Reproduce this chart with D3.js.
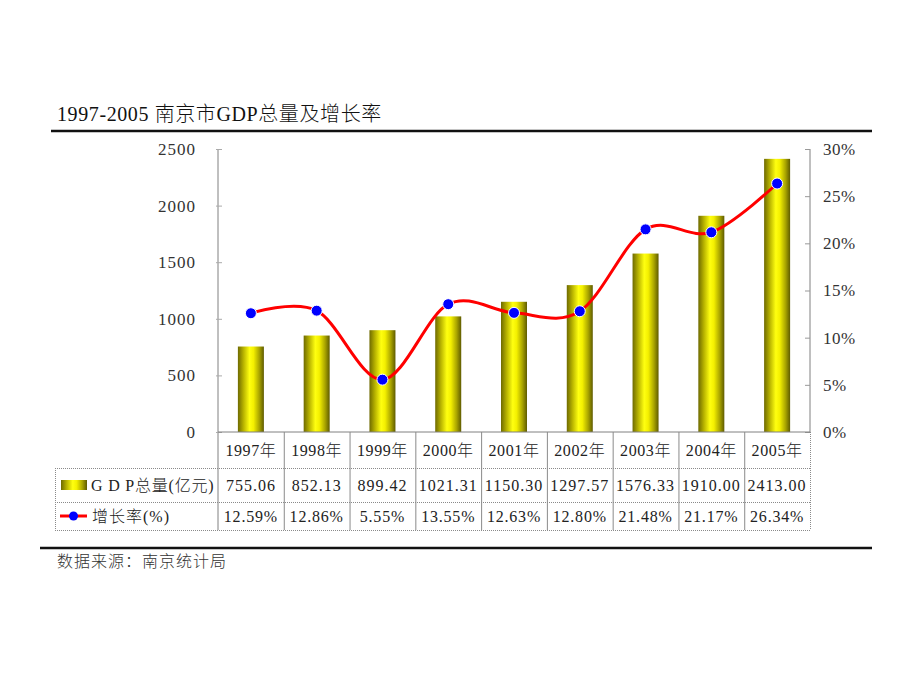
<!DOCTYPE html>
<html><head><meta charset="utf-8">
<script src="https://cdn.jsdelivr.net/npm/d3@7"></script>
<style>
body{margin:0;background:#fff;}
text{font-family:"Liberation Serif","Noto Sans CJK SC",serif;font-weight:300;}
</style></head>
<body><svg id="c" width="920" height="690"></svg>
<script>
const years = ["1997年","1998年","1999年","2000年","2001年","2002年","2003年","2004年","2005年"];
const gdp = [755.06,852.13,899.42,1021.31,1150.30,1297.57,1576.33,1910.00,2413.00];
const gdpLabels = ["755.06","852.13","899.42","1021.31","1150.30","1297.57","1576.33","1910.00","2413.00"];
const growth = [12.59,12.86,5.55,13.55,12.63,12.80,21.48,21.17,26.34];
const growthLabels = ["12.59%","12.86%","5.55%","13.55%","12.63%","12.80%","21.48%","21.17%","26.34%"];
const leftTicks = [0,500,1000,1500,2000,2500];
const rightTicks = [0,5,10,15,20,25,30];
const title = "1997-2005 南京市GDP总量及增长率";
const source = "数据来源：南京统计局";
const legendGdp = "G D P总量(亿元)";
const legendGrowth = "增长率(%)";

const svg = d3.select("#c");
const L = 218, R = 810, T = 149, B = 432;
const x = d3.scaleBand().domain(years).range([L, R]).padding(0);
const y = d3.scaleLinear().domain([0, 2500]).range([B, T]);
const y2 = d3.scaleLinear().domain([0, 30]).range([B, T]);

const defs = svg.append("defs");
const g = defs.append("linearGradient").attr("id","barg").attr("x1","0").attr("x2","1").attr("y1","0").attr("y2","0");
[[0,"#6e6a00"],[0.22,"#b9b400"],[0.45,"#ffff10"],[0.6,"#f4f000"],[0.82,"#aaa500"],[1,"#5f5b00"]].forEach(s=>g.append("stop").attr("offset",s[0]).attr("stop-color",s[1]));

// title and rules
svg.append("text").attr("x",57).attr("y",121).attr("font-size",20).attr("fill","#111").attr("letter-spacing",0.6).text(title);
svg.append("line").attr("x1",51).attr("x2",872).attr("y1",131).attr("y2",131).attr("stroke","#111").attr("stroke-width",2.5);
svg.append("line").attr("x1",40).attr("x2",872).attr("y1",548).attr("y2",548).attr("stroke","#111").attr("stroke-width",2.5);
svg.append("text").attr("x",57).attr("y",567).attr("font-size",16).attr("fill","#333").attr("letter-spacing",1).text(source);

// bars
const bw = 26;
svg.append("g").selectAll("rect").data(gdp).join("rect")
  .attr("x",(d,i)=>x(years[i])+x.bandwidth()/2-bw/2)
  .attr("y",d=>y(d)).attr("width",bw).attr("height",d=>B-y(d))
  .attr("fill","url(#barg)");

// axes
const axisColor = "#808080";
const la = svg.append("g").attr("transform",`translate(${L},0)`)
  .call(d3.axisLeft(y).tickValues(leftTicks).tickSize(0).tickPadding(22).tickFormat(d3.format("d")));
la.select(".domain").remove();
la.selectAll("text").attr("font-size",17).attr("fill","#333").attr("letter-spacing",1).attr("font-family",'"Liberation Serif",serif');
svg.append("line").attr("x1",L).attr("x2",L).attr("y1",T).attr("y2",530).attr("stroke",axisColor);
svg.append("g").selectAll("line").data(leftTicks).join("line")
  .attr("x1",L-2).attr("x2",L+4).attr("y1",d=>y(d)+0.5).attr("y2",d=>y(d)+0.5).attr("stroke","#aaa");

const ra = svg.append("g").attr("transform",`translate(${R},0)`)
  .call(d3.axisRight(y2).tickValues(rightTicks).tickSize(0).tickPadding(13).tickFormat(d=>d+"%"));
ra.select(".domain").remove();
ra.selectAll("text").attr("font-size",17).attr("fill","#333").attr("letter-spacing",0.5).attr("font-family",'"Liberation Serif",serif');
svg.append("line").attr("x1",R).attr("x2",R).attr("y1",T).attr("y2",B).attr("stroke",axisColor);
svg.append("g").selectAll("line").data(rightTicks).join("line")
  .attr("x1",R-5).attr("x2",R).attr("y1",d=>y2(d)+0.5).attr("y2",d=>y2(d)+0.5).attr("stroke","#999");

// table
const tc = "#8a8a8a";
const tg = svg.append("g");
tg.append("line").attr("x1",L).attr("x2",R).attr("y1",B).attr("y2",B).attr("stroke",axisColor);
[468,502,530].forEach(yy=>tg.append("line").attr("x1",55).attr("x2",R).attr("y1",yy+0.5).attr("y2",yy+0.5).attr("stroke",tc).attr("stroke-dasharray","1,1"));
tg.append("line").attr("x1",55.5).attr("x2",55.5).attr("y1",468).attr("y2",530).attr("stroke",tc).attr("stroke-dasharray","1,1");
years.forEach((yr,i)=>{
  const x1 = x(yr)+x.bandwidth();
  tg.append("line").attr("x1",x1+0.5).attr("x2",x1+0.5).attr("y1",B).attr("y2",530).attr("stroke",tc).attr("stroke-dasharray", i==years.length-1? "1,1":"none");
});
const cx = d=>x(d)+x.bandwidth()/2;
tg.selectAll("text.yr").data(years).join("text").attr("class","yr")
  .attr("x",d=>cx(d)).attr("y",456).attr("text-anchor","middle").attr("font-size",16).attr("fill","#222").attr("letter-spacing",0.6).text(d=>d);
tg.selectAll("text.gv").data(gdpLabels).join("text").attr("class","gv")
  .attr("x",(d,i)=>cx(years[i])).attr("y",491).attr("text-anchor","middle").attr("font-size",16).attr("fill","#222").attr("letter-spacing",1).text(d=>d);
tg.selectAll("text.pv").data(growthLabels).join("text").attr("class","pv")
  .attr("x",(d,i)=>cx(years[i])).attr("y",522).attr("text-anchor","middle").attr("font-size",16).attr("fill","#222").attr("letter-spacing",0.8).text(d=>d);

// legend in table
tg.append("rect").attr("x",61).attr("y",480).attr("width",26).attr("height",10).attr("fill","url(#barg)");
tg.append("text").attr("x",91).attr("y",491).attr("font-size",16).attr("fill","#222").attr("letter-spacing",0.8).text(legendGdp);
tg.append("line").attr("x1",60).attr("x2",87).attr("y1",516).attr("y2",516).attr("stroke","#ff0000").attr("stroke-width",3);
tg.append("circle").attr("cx",73.5).attr("cy",516).attr("r",4.5).attr("fill","#0000ff");
tg.append("text").attr("x",92).attr("y",522).attr("font-size",16).attr("fill","#222").attr("letter-spacing",1).text(legendGrowth);

// line
const line = d3.line().x((d,i)=>cx(years[i])).y(d=>y2(d)).curve(d3.curveCardinal.tension(0));
svg.append("path").datum(growth).attr("d",line).attr("fill","none").attr("stroke","#ff0000").attr("stroke-width",3);
svg.append("g").selectAll("circle").data(growth).join("circle")
  .attr("cx",(d,i)=>cx(years[i])).attr("cy",d=>y2(d)).attr("r",5.5)
  .attr("fill","#0000ff").attr("stroke","#fff").attr("stroke-width",1);
</script></body></html>
